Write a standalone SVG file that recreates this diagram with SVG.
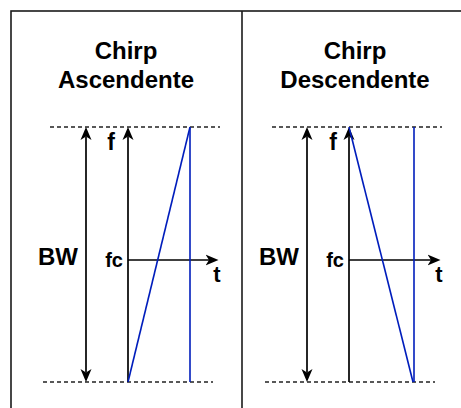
<svg xmlns="http://www.w3.org/2000/svg" width="461" height="408" viewBox="0 0 461 408">
<defs>
<marker id="ah" markerUnits="userSpaceOnUse" markerWidth="14" markerHeight="13" viewBox="0 0 14 12" refX="3.5" refY="6" orient="auto-start-reverse">
<path d="M0,0.5 L13,6 L0,11.5 L3.5,6 Z" fill="#000"/>
</marker>
</defs>
<style>
.frame{fill:none;stroke:#1a1a1a;stroke-width:1.6}
.dash{stroke:#222;stroke-width:1.3;stroke-dasharray:4 3;fill:none}
.ax{stroke:#000;stroke-width:1.7;fill:none}
.blue{stroke:#001DBC;stroke-width:1.6;fill:none}
.t{font-family:"Liberation Sans",Arial,sans-serif;font-weight:bold;fill:#000}
</style>
<rect width="461" height="408" fill="#fff"/>
<g id="frame">
<rect class="frame" x="11" y="11" width="470" height="420"/>
<line class="frame" x1="242" y1="11" x2="242" y2="410"/>
</g>
<g id="panel-asc">
<text class="t" x="126" y="59" font-size="24" text-anchor="middle">Chirp</text>
<text class="t" x="126" y="88" font-size="24" text-anchor="middle">Ascendente</text>
</g>
<g id="panel-desc">
<text class="t" x="355" y="59" font-size="24" text-anchor="middle">Chirp</text>
<text class="t" x="355" y="88" font-size="24" text-anchor="middle">Descendente</text>
</g>
<g id="connectors">
<line class="dash" x1="50" y1="127" x2="220" y2="127"/>
<line class="dash" x1="43" y1="382" x2="213" y2="382"/>
<line class="ax" x1="86" y1="136.5" x2="86" y2="372.5" marker-start="url(#ah)" marker-end="url(#ah)"/>
<line class="ax" x1="128" y1="382" x2="128" y2="136.5" marker-end="url(#ah)"/>
<line class="ax" x1="128" y1="260" x2="209" y2="260" marker-end="url(#ah)"/>
<line class="blue" x1="128" y1="382" x2="190" y2="127"/>
<line class="blue" x1="190" y1="127" x2="190" y2="382"/>

<line class="dash" x1="272" y1="127" x2="442" y2="127"/>
<line class="dash" x1="265" y1="382" x2="435" y2="382"/>
<line class="ax" x1="307" y1="136.5" x2="307" y2="372.5" marker-start="url(#ah)" marker-end="url(#ah)"/>
<line class="ax" x1="349" y1="382" x2="349" y2="136.5" marker-end="url(#ah)"/>
<line class="ax" x1="349" y1="260" x2="431" y2="260" marker-end="url(#ah)"/>
<line class="blue" x1="349" y1="127" x2="413" y2="382"/>
<line class="blue" x1="414" y1="127" x2="414" y2="382"/>
</g>
<g id="labels-asc">
<text class="t" x="111" y="150" font-size="23" text-anchor="middle">f</text>
<text class="t" x="123" y="267" font-size="20" text-anchor="end">fc</text>
<text class="t" x="58" y="265" font-size="24" text-anchor="middle">BW</text>
<text class="t" x="217" y="282" font-size="22" text-anchor="middle">t</text>
</g>
<g id="labels-desc">
<text class="t" x="333" y="150" font-size="23" text-anchor="middle">f</text>
<text class="t" x="344" y="267" font-size="20" text-anchor="end">fc</text>
<text class="t" x="279" y="265" font-size="24" text-anchor="middle">BW</text>
<text class="t" x="439" y="282" font-size="22" text-anchor="middle">t</text>
</g>
</svg>
